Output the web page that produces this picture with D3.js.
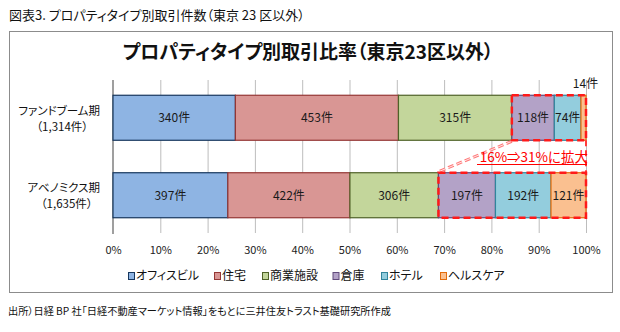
<!DOCTYPE html>
<html>
<head>
<meta charset="utf-8">
<script src="https://cdn.jsdelivr.net/npm/d3@7"></script>
<style>
  html, body { margin: 0; padding: 0; background: #fff; }
  svg { display: block; font-family: "Noto Sans CJK JP", "Noto Sans", sans-serif; font-feature-settings: "palt"; }
</style>
</head>
<body>
<svg id="chart" width="620" height="332"></svg>
<script>
// Periods and their total deal counts
const periods = ["ファンドブーム期", "アベノミクス期"];
const periodTotals = ["（1,314件）", "（1,635件）"];

// Property types
const types = ["オフィスビル", "住宅", "商業施設", "倉庫", "ホテル", "ヘルスケア"];

// Deal counts by property type, one array per period
const fundBoom = [340, 453, 315, 118, 74, 14];
const abenomics = [397, 422, 306, 197, 192, 121];

// Value axis ticks
const ticks = [0, 0.1, 0.2, 0.3, 0.4, 0.5, 0.6, 0.7, 0.8, 0.9, 1.0];

// Type colours (fill / outline)
const fills = ["#8eb4e3", "#d99694", "#c3d69b", "#b3a2c7", "#93cddd", "#fac090"];
const strokes = ["#17375e", "#953735", "#4f6228", "#604a7b", "#31859c", "#e46c0a"];

const counts = [fundBoom, abenomics];

const svg = d3.select("#chart");

// Heading and source note
svg.append("text").attr("x", 9).attr("y", 19.5)
  .attr("font-size", 13).attr("fill", "#111")
  .text("図表3. プロパティタイプ別取引件数（東京 23 区以外）");
svg.append("text").attr("x", 8).attr("y", 315)
  .attr("font-size", 10.2).attr("fill", "#111")
  .text("出所）日経 BP 社「日経不動産マーケット情報」をもとに三井住友トラスト基礎研究所作成");

// Chart frame
svg.append("rect").attr("x", 9.5).attr("y", 31.5).attr("width", 603).attr("height", 261)
  .attr("fill", "#fff").attr("stroke", "#8c8c8c").attr("stroke-width", 1);

svg.append("text").attr("x", 308).attr("y", 59)
  .attr("text-anchor", "middle").attr("font-size", 19).attr("font-weight", "bold")
  .attr("fill", "#111")
  .text("プロパティタイプ別取引比率（東京23区以外）");

const x = d3.scaleLinear().domain([0, 1]).range([113, 586]);
const y = d3.scaleBand().domain(periods).range([80, 233])
  .paddingInner(0.419).paddingOuter(0.197);

// Gridlines
svg.append("g").selectAll("line").data(ticks.slice(1)).join("line")
  .attr("x1", d => x(d) + 0.5).attr("x2", d => x(d) + 0.5)
  .attr("y1", 80).attr("y2", 233)
  .attr("stroke", "#bdbdbd").attr("stroke-width", 1);
// Category axis line
svg.append("line").attr("x1", x(0)).attr("x2", x(0)).attr("y1", 80).attr("y2", 234)
  .attr("stroke", "#7f7f7f").attr("stroke-width", 1.5);

// Value axis labels
const xAxis = d3.axisBottom(x).tickValues(ticks).tickFormat(d3.format(".0%")).tickSize(0).tickPadding(0);
const gx = svg.append("g").attr("transform", "translate(0,246)").call(xAxis);
gx.select(".domain").remove();
gx.selectAll("text").attr("font-size", 11).attr("fill", "#222")
  .attr("font-family", "\"Noto Sans CJK JP\", sans-serif");

// Stacked segments
const stacked = counts.map((vals, i) => {
  const total = d3.sum(vals);
  let acc = 0;
  return vals.map((v, j) => {
    const s = { period: periods[i], type: j, value: v, x0: acc / total, x1: (acc + v) / total };
    acc += v;
    return s;
  });
});

const bars = svg.append("g");
stacked.forEach(row => {
  bars.selectAll(null).data(row).join("rect")
    .attr("x", d => x(d.x0)).attr("y", d => y(d.period))
    .attr("width", d => x(d.x1) - x(d.x0)).attr("height", y.bandwidth())
    .attr("fill", d => fills[d.type]).attr("stroke", d => strokes[d.type]).attr("stroke-width", 1.2);
});

// Segment labels
const labels = svg.append("g").attr("font-size", 12).attr("fill", "#1a1a1a");
stacked.forEach(row => {
  labels.selectAll(null).data(row).join("text")
    .attr("x", d => x((d.x0 + d.x1) / 2) + (x(d.x1) - x(d.x0) < 20 ? 2 : 0))
    .attr("y", d => x(d.x1) - x(d.x0) < 20 ? y(d.period) - 7 : y(d.period) + y.bandwidth() / 2 + 4.5)
    .attr("text-anchor", "middle")
    .text(d => d.value + "件");
});

// Category labels
periods.forEach((p, i) => {
  const cy = y(p) + y.bandwidth() / 2;
  const t1 = svg.append("text").attr("x", 100).attr("y", cy - 3)
    .attr("text-anchor", "end").attr("font-size", 11.5).attr("fill", "#111").text(p);
  const w = t1.node().getComputedTextLength();
  svg.append("text").attr("x", 100 - w / 2 + 3).attr("y", cy + 13)
    .attr("text-anchor", "middle").attr("font-size", 11.5).attr("fill", "#111").text(periodTotals[i]);
});

// Highlight of the growing niche types (倉庫・ホテル・ヘルスケア)
const firstNiche = 3;
const hl = svg.append("g").attr("fill", "none");
const boxes = stacked.map(row => ({
  x0: x(row[firstNiche].x0), x1: x(1),
  y0: y(row[0].period), y1: y(row[0].period) + y.bandwidth()
}));
// Connector between the two boxes
hl.append("line")
  .attr("x1", boxes[0].x0).attr("y1", boxes[0].y1 + 1)
  .attr("x2", boxes[1].x0).attr("y2", boxes[1].y0 - 1)
  .attr("stroke", "#ff7a7a").attr("stroke-width", 3).attr("stroke-dasharray", "6,3");
hl.append("line")
  .attr("x1", boxes[0].x0).attr("y1", boxes[0].y1 + 1)
  .attr("x2", boxes[1].x0).attr("y2", boxes[1].y0 - 1)
  .attr("stroke", "#fff").attr("stroke-width", 0.8);
hl.append("line")
  .attr("x1", boxes[0].x1).attr("y1", boxes[0].y1)
  .attr("x2", boxes[1].x1).attr("y2", boxes[1].y0)
  .attr("stroke", "#ff3b3b").attr("stroke-width", 2).attr("stroke-dasharray", "6,4");
boxes.forEach(b => {
  hl.append("rect")
    .attr("x", b.x0).attr("y", b.y0).attr("width", b.x1 - b.x0).attr("height", b.y1 - b.y0)
    .attr("stroke", "#ff1a1a").attr("stroke-width", 2.5).attr("stroke-dasharray", "7,4");
});

// Share of niche types in each period
const share = counts.map(v => Math.round(d3.sum(v.slice(firstNiche)) / d3.sum(v) * 100));
svg.append("text").attr("x", 588).attr("y", 162)
  .attr("text-anchor", "end").attr("font-size", 13.5).attr("fill", "#ff0000")
  .text(`${share[0]}%⇒${share[1]}%に拡大`);
svg.append("line").attr("x1", 477).attr("x2", 587).attr("y1", 164.5).attr("y2", 164.5)
  .attr("stroke", "#ff0000").attr("stroke-width", 1);

// Legend
const legendX = [128, 214, 262, 332.5, 381, 440];
const lg = svg.append("g");
types.forEach((t, i) => {
  lg.append("rect").attr("x", legendX[i] + 0.5).attr("y", 272.5).attr("width", 6).attr("height", 7)
    .attr("fill", fills[i]).attr("stroke", strokes[i]).attr("stroke-width", 1);
  lg.append("text").attr("x", legendX[i] + 8).attr("y", 280)
    .attr("font-size", 12).attr("fill", "#111").text(t);
});
</script>
</body>
</html>
